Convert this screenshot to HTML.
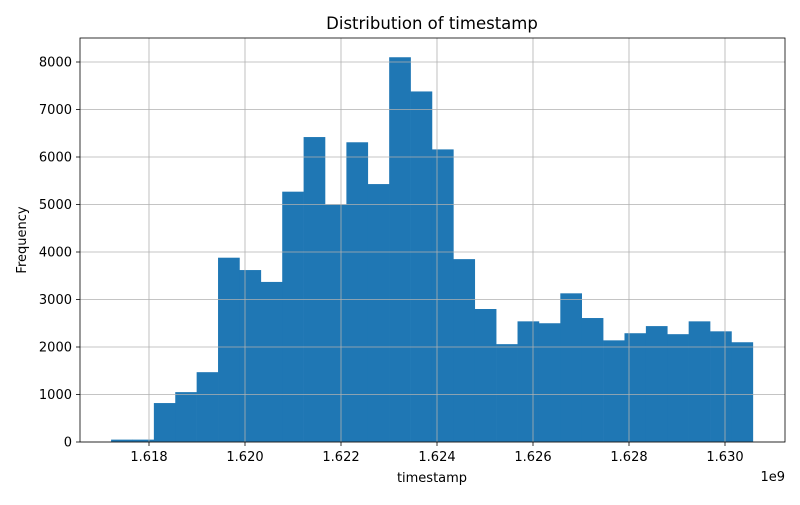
<!DOCTYPE html>
<html><head><meta charset="utf-8"><style>
body{margin:0;background:#fff;}
svg text{font-family:"DejaVu Sans","Liberation Sans",sans-serif;fill:#000;}
</style></head><body>
<svg id="chart" width="800" height="500">
<rect x="0" y="0" width="800" height="500" fill="#fff"/>
<text x="432" y="29" font-size="16.5" text-anchor="middle">Distribution of timestamp</text>
<g id="bars"></g><g id="grid"></g><g id="axes"></g>
<text x="432" y="482" font-size="13" text-anchor="middle">timestamp</text>
<text x="26" y="240" font-size="13" text-anchor="middle" transform="rotate(-90 26 240)">Frequency</text>
<text x="785" y="481" font-size="13" text-anchor="end">1e9</text>
</svg>
<script>
const binStart = 1.61721;
const binEnd = 1.63058;
const counts = [50,50,820,1050,1470,3880,3620,3370,5270,6420,5000,6310,5430,8100,7380,6160,3850,2800,2060,2540,2500,3130,2610,2140,2290,2440,2270,2540,2330,2100];
const xTicks = [1.618,1.620,1.622,1.624,1.626,1.628,1.630];
const xTickLabels = ["1.618","1.620","1.622","1.624","1.626","1.628","1.630"];
const yTicks = [0,1000,2000,3000,4000,5000,6000,7000,8000];

const L=80,R=785,T=38,B=442;
const NS="http://www.w3.org/2000/svg";
function xs(v){return 149+(v-1.618)*48000;}
function ys(v){return B-v*0.0475;}
function mk(tag,attrs,parent){const e=document.createElementNS(NS,tag);for(const k in attrs)e.setAttribute(k,attrs[k]);parent.appendChild(e);return e;}
const bars=document.getElementById('bars'),grid=document.getElementById('grid'),axes=document.getElementById('axes');
const w=(binEnd-binStart)/counts.length;
counts.forEach((c,i)=>{
  const x0=xs(binStart+i*w),x1=xs(binStart+(i+1)*w);
  const r=mk('rect',{x:x0,y:ys(c),width:x1-x0+0.3,height:B-ys(c),fill:'#1f77b4'},bars);
  
  
});
xTicks.forEach((t,i)=>{
  const x=xs(t);
  const g=mk('line',{x1:x,x2:x,y1:T,y2:B,stroke:'#b0b0b0','stroke-width':0.8},grid);
  
  
  mk('line',{x1:x,x2:x,y1:B,y2:B+4,stroke:'#000','stroke-width':0.8},axes);
  const tx=mk('text',{x:x,y:B+19,'font-size':13,'text-anchor':'middle'},axes);
  tx.textContent=xTickLabels[i];
  
  
});
yTicks.forEach(t=>{
  const y=ys(t);
  const g=mk('line',{x1:L,x2:R,y1:y,y2:y,stroke:'#b0b0b0','stroke-width':0.8},grid);
  
  
  mk('line',{x1:L-4,x2:L,y1:y,y2:y,stroke:'#000','stroke-width':0.8},axes);
  const tx=mk('text',{x:L-8,y:y+4.5,'font-size':13,'text-anchor':'end'},axes);
  tx.textContent=String(t);
  
  
});
const fr=mk('rect',{x:L,y:T,width:R-L,height:B-T,fill:'none',stroke:'#000','stroke-width':0.8},axes);


</script>
</body></html>
